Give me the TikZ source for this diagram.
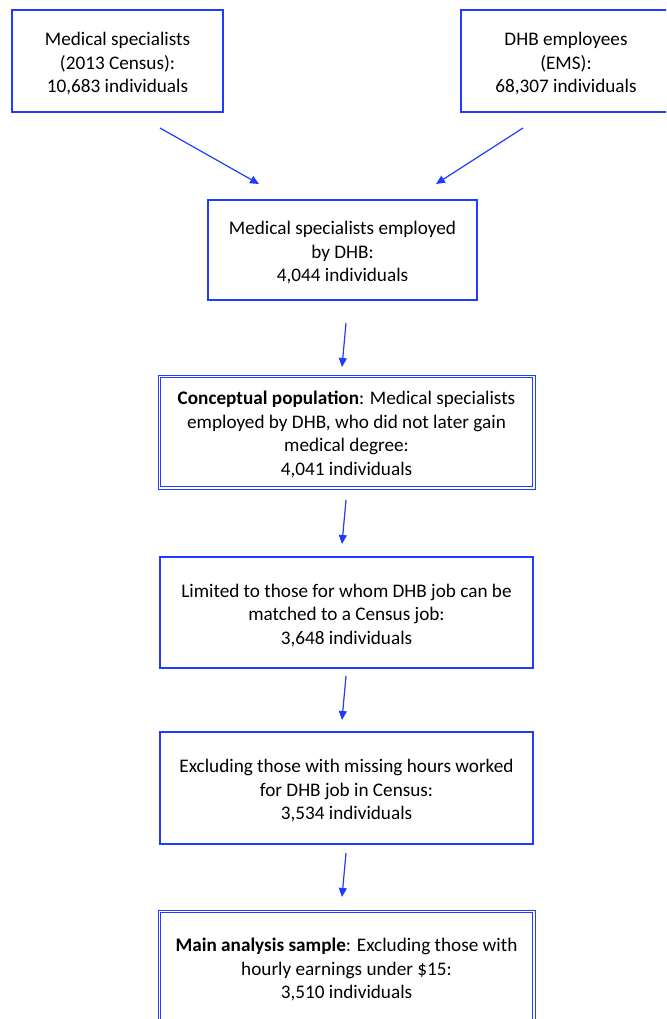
\documentclass[tikz,border=0pt]{standalone}
\usepackage{fontspec}
\setmainfont{Carlito}
\usetikzlibrary{arrows.meta}
\definecolor{bl}{RGB}{30,60,255}
\newcommand\topstrut{\rule{0pt}{18.5pt}}
\tikzset{
  box/.style={draw=bl, line width=1.5pt, rectangle, align=center, inner sep=0pt,
    font=\fontsize{19.2}{23.5}\selectfont, text=black},
  dbox/.style={box, line width=0.9pt},
  inner/.style={draw=bl, line width=0.9pt},
  arr/.style={draw=bl, line width=1.2pt, -{Triangle[length=9pt,width=8pt]}}
}
\begin{document}
\begin{tikzpicture}[x=1pt,y=-1pt]
\useasboundingbox (0,0) rectangle (666,1019);
\clip (0,0) rectangle (666,1019);
\node[box, minimum width=211, minimum height=102] (a) at (117.5,61)
  {\topstrut Medical specialists\\(2013 Census):\\10,683 individuals};
\node[box, minimum width=210, minimum height=102] (b) at (566,61)
  {\topstrut DHB employees\\(EMS):\\68,307 individuals};
\node[box, minimum width=269, minimum height=100] (c) at (342.5,250)
  {\topstrut Medical specialists employed\\by DHB:\\4,044 individuals};
\node[dbox, minimum width=377, minimum height=114] (d) at (346.5,432)
  {\topstrut\textbf{Conceptual population}: Medical specialists\\employed by DHB, who did not later gain\\medical degree:\\4,041 individuals};
\draw[inner] ([shift={(3,3)}]d.north west) rectangle ([shift={(-3,-3)}]d.south east);
\node[box, minimum width=373, minimum height=111] (e) at (346.5,612.5)
  {\topstrut Limited to those for whom DHB job can be\\matched to a Census job:\\3,648 individuals};
\node[box, minimum width=373, minimum height=112] (f) at (346.5,788)
  {\topstrut Excluding those with missing hours worked\\for DHB job in Census:\\3,534 individuals};
\node[dbox, minimum width=377, minimum height=114] (g) at (346.5,967)
  {\topstrut\textbf{Main analysis sample}: Excluding those with\\hourly earnings under \$15:\\3,510 individuals};
\draw[inner] ([shift={(3,3)}]g.north west) rectangle ([shift={(-3,-3)}]g.south east);
\coordinate (a1) at (160,128); \coordinate (a2) at (259,184);
\coordinate (b1) at (523,128); \coordinate (b2) at (436,184);
\coordinate (c1) at (346,323); \coordinate (c2) at (342,367);
\coordinate (d1) at (346,500); \coordinate (d2) at (342,544);
\coordinate (e1) at (346,676); \coordinate (e2) at (342,720);
\coordinate (f1) at (346,853); \coordinate (f2) at (342,897);
\draw[arr] (a1) -- (a2);
\draw[arr] (b1) -- (b2);
\draw[arr] (c1) -- (c2);
\draw[arr] (d1) -- (d2);
\draw[arr] (e1) -- (e2);
\draw[arr] (f1) -- (f2);
\end{tikzpicture}
\end{document}
